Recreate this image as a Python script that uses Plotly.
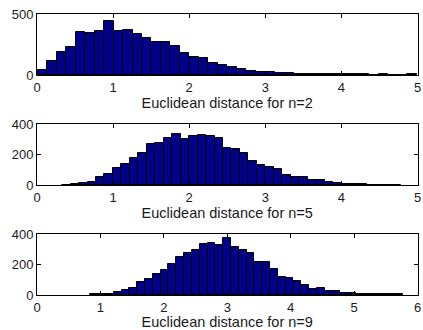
import numpy as np
import plotly.graph_objects as go

# ---- data ----
counts_n2 = [41, 115, 191, 231, 352, 344, 358, 445, 358, 366, 333, 300, 271, 271, 236, 183,
             144, 137, 95, 80, 68, 48, 36, 27, 21, 16, 13, 10, 10, 8, 7, 5, 5, 7, 5, 4, 7, 3, 3, 7]
range_n2 = [0.01, 4.99]

counts_n5 = [2, 4, 12, 22, 55, 72, 110, 141, 180, 210, 268, 274, 310, 333, 300, 322, 328, 322,
             305, 244, 233, 213, 158, 129, 115, 107, 66, 55, 55, 32, 32, 20, 10, 9, 6, 4, 3, 3, 2, 2]
range_n5 = [0.33, 4.78]

counts_n9 = [4, 6, 9, 17, 30, 45, 88, 105, 138, 163, 204, 247, 273, 297, 333, 344, 325, 372,
             314, 297, 277, 217, 217, 170, 120, 114, 92, 67, 39, 45, 24, 24, 13, 11, 6, 5, 5, 4, 4, 4]
range_n9 = [0.84, 5.77]

xlabels = ["Euclidean distance for n=2", "Euclidean distance for n=5", "Euclidean distance for n=9"]
x_ranges = [[0, 5], [0, 5], [0, 6]]
y_ranges = [[0, 500], [0, 400], [0, 400]]
y_ticks = [[0, 500], [0, 200, 400], [0, 200, 400]]

panels = [(counts_n2, range_n2), (counts_n5, range_n5), (counts_n9, range_n9)]

W, H = 423, 330
x_dom = [37 / W, 417.5 / W]
y_px = [(14, 75), (124, 185), (234, 295)]

fig = go.Figure()
font = dict(family="Liberation Sans, Arial, sans-serif", size=13, color="#1a1a1a")

for i, (counts, rng) in enumerate(panels):
    n = len(counts)
    edges = np.linspace(rng[0], rng[1], n + 1)
    centers = (edges[:-1] + edges[1:]) / 2
    width = edges[1] - edges[0]
    xa = "x" if i == 0 else f"x{i+1}"
    ya = "y" if i == 0 else f"y{i+1}"
    fig.add_trace(go.Bar(
        x=centers, y=counts, width=width, xaxis=xa, yaxis=ya,
        marker=dict(color="#000088", line=dict(color="black", width=1)),
        showlegend=False, hoverinfo="x+y",
    ))
    top, bot = y_px[i]
    ydom = [(H - bot) / H, (H - top) / H]
    axis_common = dict(
        showline=True, linecolor="black", linewidth=1, mirror="ticks",
        ticks="inside", ticklen=4, tickcolor="black", tickwidth=1,
        showgrid=False, zeroline=False, tickfont=font, fixedrange=True,
        automargin=False,
    )
    fig.layout[f"xaxis{'' if i == 0 else i+1}"] = dict(
        domain=x_dom, range=x_ranges[i], anchor=ya, dtick=1, tick0=0,
        title=dict(text=xlabels[i], font=dict(family=font["family"], size=14.5, color="#1a1a1a"), standoff=0),
        **axis_common,
    )
    fig.layout[f"yaxis{'' if i == 0 else i+1}"] = dict(
        domain=ydom, range=y_ranges[i], anchor=xa, tickvals=y_ticks[i],
        **axis_common,
    )

fig.update_layout(
    width=W, height=H, margin=dict(l=0, r=0, t=0, b=0, autoexpand=False),
    paper_bgcolor="white", plot_bgcolor="white", bargap=0,
)
fig.write_html("out.html", config={"displayModeBar": False},
               post_script="document.body.style.margin='0px';document.body.style.overflow='hidden';")
